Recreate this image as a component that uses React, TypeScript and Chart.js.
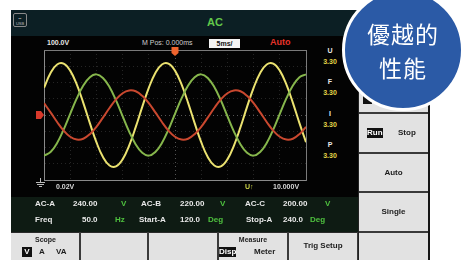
import React, { useEffect, useRef } from "react";
import { Chart, registerables } from "chart.js";

Chart.register(...registerables);

// time axis (ms), 5 ms / division, 10 divisions
const TIME_MS = [0, 1.25, 2.5, 3.75, 5, 6.25, 7.5, 8.75, 10, 11.25, 12.5, 13.75, 15, 16.25, 17.5, 18.75, 20, 21.25, 22.5, 23.75, 25, 26.25, 27.5, 28.75, 30, 31.25, 32.5, 33.75, 35, 36.25, 37.5, 38.75, 40, 41.25, 42.5, 43.75, 45, 46.25, 47.5, 48.75, 50];

// phase voltages (V), 100 V / division
const PHASE_A = [167, 259, 311, 316, 273, 188, 75, -50, -167, -259, -311, -316, -273, -188, -75, 50, 167, 259, 311, 316, 273, 188, 75, -50, -167, -259, -311, -316, -273, -188, -75, 50, 167, 259, 311, 316, 273, 188, 75, -50, -167];
const PHASE_B = [-250, -228, -172, -90, 7, 102, 181, 233, 250, 228, 172, 90, -7, -102, -181, -233, -250, -228, -172, -90, 7, 102, 181, 233, 250, 228, 172, 90, -7, -102, -181, -233, -250, -228, -172, -90, 7, 102, 181, 233, 250];
const PHASE_C = [73, 16, -43, -96, -134, -151, -146, -118, -73, -16, 43, 96, 134, 151, 146, 118, 73, 16, -43, -96, -134, -151, -146, -118, -73, -16, 43, 96, 134, 151, 146, 118, 73, 16, -43, -96, -134, -151, -146, -118, -73];

const X_MIN = 0;
const X_MAX = 50;
const X_STEP = 5;
const Y_MIN = -400;
const Y_MAX = 400;
const Y_STEP = 100;
const TRIGGER_MS = 25;

const FONT = '"Liberation Sans", Arial, sans-serif';

type TP = {
  x: number;
  y: number;
  s?: number;
  c?: string;
  b?: boolean;
  w?: number;
  al?: "left" | "center";
  bg?: string;
  children: React.ReactNode;
};

function T({ x, y, s = 7, c = "#e6e6e6", b = true, w, al = "left", bg, children }: TP) {
  return (
    <div
      style={{
        position: "absolute",
        left: x,
        top: y,
        width: w,
        fontSize: s,
        lineHeight: `${s + 2}px`,
        color: c,
        fontWeight: b ? 700 : 400,
        textAlign: al,
        whiteSpace: "nowrap",
        background: bg,
      }}
    >
      {children}
    </div>
  );
}

function Box({ x, y, w, h, bg, extra }: { x: number; y: number; w: number; h: number; bg: string; extra?: React.CSSProperties }) {
  return <div style={{ position: "absolute", left: x, top: y, width: w, height: h, background: bg, boxSizing: "border-box", ...extra }} />;
}

const markerPlugin = {
  id: "scopeMarkers",
  afterDraw(chart: any) {
    const { ctx, chartArea, scales } = chart;
    const y0 = scales.y.getPixelForValue(0);
    const xt = scales.x.getPixelForValue(TRIGGER_MS);
    ctx.save();
    // channel ground marker on the left
    ctx.fillStyle = "#d8392b";
    ctx.beginPath();
    ctx.moveTo(chartArea.left - 8, y0 - 4);
    ctx.lineTo(chartArea.left - 3, y0 - 4);
    ctx.lineTo(chartArea.left, y0);
    ctx.lineTo(chartArea.left - 3, y0 + 4);
    ctx.lineTo(chartArea.left - 8, y0 + 4);
    ctx.closePath();
    ctx.fill();
    // trigger position marker at top
    ctx.fillStyle = "#f0642e";
    ctx.beginPath();
    ctx.moveTo(xt - 3.5, chartArea.top - 3);
    ctx.lineTo(xt + 3.5, chartArea.top - 3);
    ctx.lineTo(xt + 3.5, chartArea.top + 3);
    ctx.lineTo(xt, chartArea.top + 6);
    ctx.lineTo(xt - 3.5, chartArea.top + 3);
    ctx.closePath();
    ctx.fill();
    ctx.restore();
  },
};

function ScopeChart() {
  const ref = useRef<HTMLCanvasElement | null>(null);
  useEffect(() => {
    if (!ref.current) return;
    const pts = (arr: number[]) => arr.map((v, i) => ({ x: TIME_MS[i], y: v }));
    const gridColor = (center: number) => (c: any) =>
      c.tick && c.tick.value === center ? "rgba(120,120,120,0.7)" : "rgba(60,60,60,0.6)";
    const chart = new Chart(ref.current, {
      type: "line",
      data: {
        datasets: [
          { label: "C", data: pts(PHASE_C), borderColor: "#c9482f", borderWidth: 2, pointRadius: 0, tension: 0.4, fill: false },
          { label: "B", data: pts(PHASE_B), borderColor: "#86b64c", borderWidth: 2, pointRadius: 0, tension: 0.4, fill: false },
          { label: "A", data: pts(PHASE_A), borderColor: "#ebe270", borderWidth: 2, pointRadius: 0, tension: 0.4, fill: false },
        ],
      },
      options: {
        animation: false,
        responsive: false,
        maintainAspectRatio: false,
        devicePixelRatio: 1,
        layout: { padding: { left: 14, top: 10, right: 14, bottom: 8 } },
        plugins: { legend: { display: false }, tooltip: { enabled: false } },
        scales: {
          x: {
            type: "linear",
            min: X_MIN,
            max: X_MAX,
            ticks: { display: false, stepSize: X_STEP },
            grid: { color: gridColor(TRIGGER_MS), drawTicks: false, lineWidth: 1 },
            border: { color: "#8a8a8a", width: 1, dash: [1, 3] },
          },
          y: {
            type: "linear",
            min: Y_MIN,
            max: Y_MAX,
            ticks: { display: false, stepSize: Y_STEP },
            grid: { color: gridColor(0), drawTicks: false, lineWidth: 1 },
            border: { color: "#8a8a8a", width: 1, dash: [1, 3] },
          },
          x2: {
            type: "linear",
            position: "top",
            min: X_MIN,
            max: X_MAX,
            ticks: { display: false },
            grid: { display: false, drawTicks: false },
            border: { color: "#7a7a7a", width: 1 },
          },
          y2: {
            type: "linear",
            position: "right",
            min: Y_MIN,
            max: Y_MAX,
            ticks: { display: false },
            grid: { display: false, drawTicks: false },
            border: { color: "#7a7a7a", width: 1 },
          },
        },
      },
      plugins: [markerPlugin],
    } as any);
    return () => chart.destroy();
  }, []);
  return (
    <canvas
      ref={ref}
      width={290}
      height={148}
      style={{ position: "absolute", left: 30, top: 40, width: 290, height: 148 }}
    />
  );
}

export default function App() {
  const W = "#e8e8e8";
  const G = "#4fc23f";
  const Y = "#e3d548";
  const K = "#1c1c1c";
  const keyBg = "#e2e2e2";
  return (
    <div
      style={{
        position: "fixed",
        left: 0,
        top: 0,
        width: 472,
        height: 260,
        background: "#ffffff",
        overflow: "hidden",
        fontFamily: FONT,
      }}
    >
      {/* screen */}
      <Box x={11} y={10} w={347} h={222} bg="#030303" />
      <Box x={11} y={10} w={400} h={26} bg="#0c1f24" />
      {/* usb icon */}
      <div
        style={{
          position: "absolute",
          left: 13,
          top: 13,
          width: 14,
          height: 14,
          border: "1px solid #8a8a8a",
          borderRadius: 2,
          boxSizing: "border-box",
          fontSize: 4,
          lineHeight: "5px",
          color: "#bbb",
          textAlign: "center",
          paddingTop: 2,
        }}
      >
        ▪▪
        <br />
        USB
      </div>
      <T x={195} y={16} w={40} al="center" s={11} c="#62c84a">
        AC
      </T>

      {/* scope header line */}
      <T x={47} y={38} s={7} c={W}>
        100.0V
      </T>
      <T x={142} y={38} s={7} c="#cfcfcf" b={false}>
        M Pos: 0.000ms
      </T>
      <div
        style={{
          position: "absolute",
          left: 209,
          top: 39,
          width: 31,
          height: 9,
          background: "#f4f4f4",
          color: "#111",
          fontSize: 7,
          lineHeight: "9px",
          fontWeight: 700,
          textAlign: "center",
        }}
      >
        5ms/
      </div>
      <T x={270} y={37} s={9} c="#e8332a">
        Auto
      </T>

      <ScopeChart />

      {/* right side readouts */}
      <T x={320} y={46} w={20} al="center" c={W}>U</T>
      <T x={320} y={57} w={20} al="center" c={Y}>3.30</T>
      <T x={320} y={77} w={20} al="center" c={W}>F</T>
      <T x={320} y={88} w={20} al="center" c={Y}>3.30</T>
      <T x={320} y={109} w={20} al="center" c={W}>I</T>
      <T x={320} y={120} w={20} al="center" c={Y}>3.30</T>
      <T x={320} y={140} w={20} al="center" c={W}>P</T>
      <T x={320} y={151} w={20} al="center" c={Y}>3.30</T>

      {/* ground symbol + bottom readouts */}
      <Box x={40} y={178} w={1} h={4} bg="#bbbbbb" />
      <Box x={36} y={182} w={9} h={1} bg="#bbbbbb" />
      <Box x={37} y={184} w={7} h={1} bg="#bbbbbb" />
      <Box x={39} y={186} w={3} h={1} bg="#bbbbbb" />
      <T x={56} y={182} c="#d8d8d8">0.02V</T>
      <T x={245} y={182} c="#c9d146">U↑</T>
      <T x={273} y={182} c="#d8d8d8">10.000V</T>

      {/* measurement panel */}
      <Box x={11} y={197} w={347} h={35} bg="#0e1b13" />
      <T x={35} y={199} s={8} c={W}>AC-A</T>
      <T x={73} y={199} s={8} c={W}>240.00</T>
      <T x={121} y={199} s={8} c={G}>V</T>
      <T x={141} y={199} s={8} c={W}>AC-B</T>
      <T x={180} y={199} s={8} c={W}>220.00</T>
      <T x={220} y={199} s={8} c={G}>V</T>
      <T x={245} y={199} s={8} c={W}>AC-C</T>
      <T x={283} y={199} s={8} c={W}>200.00</T>
      <T x={325} y={199} s={8} c={G}>V</T>

      <T x={35} y={215} s={8} c={W}>Freq</T>
      <T x={82} y={215} s={8} c={W}>50.0</T>
      <T x={115} y={215} s={8} c={G}>Hz</T>
      <T x={139} y={215} s={8} c={W}>Start-A</T>
      <T x={180} y={215} s={8} c={W}>120.0</T>
      <T x={208} y={215} s={8} c={G}>Deg</T>
      <T x={246} y={215} s={8} c={W}>Stop-A</T>
      <T x={283} y={215} s={8} c={W}>240.0</T>
      <T x={310} y={215} s={8} c={G}>Deg</T>

      {/* soft keys bottom row */}
      <Box x={11} y={232} w={417} h={28} bg={keyBg} extra={{ borderTop: "1px solid #2a2a2a" }} />
      {[80, 148, 218, 288, 358].map((x) => (
        <Box key={x} x={x - 1} y={232} w={2} h={28} bg="#3a3a3a" />
      ))}
      <T x={11} y={235} w={69} al="center" c={K}>Scope</T>
      <T x={22} y={247} c="#fff" bg="#111" s={8}>
        &nbsp;V&nbsp;
      </T>
      <T x={39} y={247} c={K} s={8}>A</T>
      <T x={56} y={247} c={K} s={8}>VA</T>
      <T x={218} y={235} w={70} al="center" c={K}>Measure</T>
      <T x={219} y={247} c="#fff" bg="#111" s={8}>
        Disp
      </T>
      <T x={254} y={247} c={K} s={8}>Meter</T>
      <T x={288} y={241} w={70} al="center" c={K} s={8}>Trig Setup</T>

      {/* right button column */}
      <Box x={358} y={10} w={72} h={250} bg={keyBg} extra={{ borderLeft: "1px solid #222", borderRight: "2px solid #161616" }} />
      {[33, 73, 113, 153, 192, 232].map((y) => (
        <Box key={y} x={359} y={y - 1} w={69} h={2} bg="#3a3a3a" />
      ))}
      <Box x={363} y={96} w={9} h={8} bg="#111" />
      <T x={367} y={128} c="#fff" bg="#111" s={8}>Run</T>
      <T x={398} y={128} c={K} s={8}>Stop</T>
      <T x={359} y={168} w={69} al="center" c={K} s={8}>Auto</T>
      <T x={359} y={207} w={69} al="center" c={K} s={8}>Single</T>

      {/* badge */}
      <div
        style={{
          position: "absolute",
          left: 342,
          top: -11,
          width: 122,
          height: 122,
          borderRadius: "50%",
          background: "#2b5aa6",
          border: "3px solid #ffffff",
          boxSizing: "border-box",
          color: "#ffffff",
          fontFamily: '"Noto Sans CJK TC", "Noto Sans CJK SC", sans-serif',
          fontSize: 23,
          lineHeight: "34px",
          textAlign: "center",
          paddingTop: 24,
          letterSpacing: 1,
        }}
      >
        優越的
        <br />
        性能
      </div>
    </div>
  );
}
